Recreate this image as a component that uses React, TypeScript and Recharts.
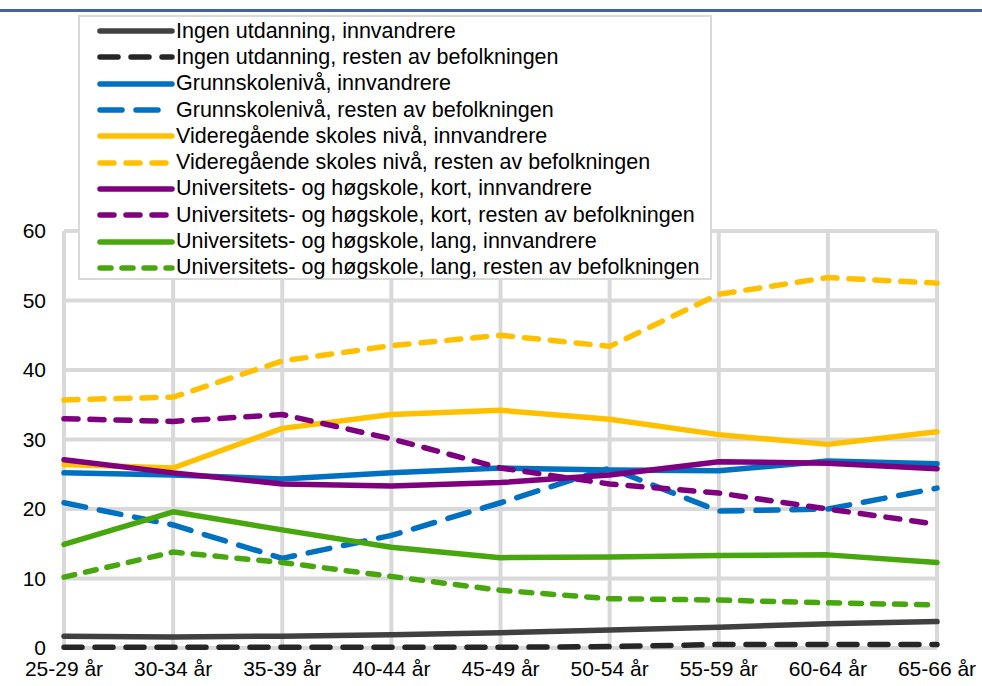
import React from 'react';
import { LineChart, Line, XAxis, YAxis, CartesianGrid } from 'recharts';

const categories = ['25-29 år', '30-34 år', '35-39 år', '40-44 år', '45-49 år', '50-54 år', '55-59 år', '60-64 år', '65-66 år'];

const ingenInnv = [1.7, 1.6, 1.7, 1.9, 2.2, 2.6, 3.0, 3.5, 3.8];
const ingenRest = [0.1, 0.1, 0.1, 0.1, 0.1, 0.2, 0.5, 0.5, 0.5];
const grunnInnv = [25.2, 24.9, 24.3, 25.2, 25.9, 25.6, 25.5, 26.9, 26.5];
const grunnRest = [20.9, 17.7, 12.9, 16.2, 20.9, 25.9, 19.7, 20.0, 23.0];
const vgsInnv = [26.4, 25.9, 31.6, 33.6, 34.2, 32.9, 30.7, 29.3, 31.1];
const vgsRest = [35.7, 36.1, 41.3, 43.5, 45.0, 43.4, 50.9, 53.3, 52.5];
const uhKortInnv = [27.1, 25.2, 23.6, 23.3, 23.8, 24.9, 26.8, 26.6, 25.8];
const uhKortRest = [33.0, 32.6, 33.6, 30.1, 25.9, 23.6, 22.3, 20.0, 17.8];
const uhLangInnv = [14.9, 19.6, 17.0, 14.5, 13.0, 13.1, 13.3, 13.4, 12.3];
const uhLangRest = [10.2, 13.8, 12.3, 10.3, 8.3, 7.1, 6.9, 6.5, 6.2];

const yTicks = [0, 10, 20, 30, 40, 50, 60];

const series = [
  { key: 'ingenInnv', name: 'Ingen utdanning, innvandrere', values: ingenInnv, color: '#404040', dash: undefined },
  { key: 'ingenRest', name: 'Ingen utdanning, resten av befolkningen', values: ingenRest, color: '#262626', dash: '18 13' },
  { key: 'grunnInnv', name: 'Grunnskolenivå, innvandrere', values: grunnInnv, color: '#0070c0', dash: undefined },
  { key: 'grunnRest', name: 'Grunnskolenivå, resten av befolkningen', values: grunnRest, color: '#0070c0', dash: '22 14' },
  { key: 'vgsInnv', name: 'Videregående skoles nivå, innvandrere', values: vgsInnv, color: '#ffc000', dash: undefined },
  { key: 'vgsRest', name: 'Videregående skoles nivå, resten av befolkningen', values: vgsRest, color: '#ffc000', dash: '14 12' },
  { key: 'uhKortInnv', name: 'Universitets- og høgskole, kort, innvandrere', values: uhKortInnv, color: '#7f007f', dash: undefined },
  { key: 'uhKortRest', name: 'Universitets- og høgskole, kort, resten av befolkningen', values: uhKortRest, color: '#7f007f', dash: '14 12' },
  { key: 'uhLangInnv', name: 'Universitets- og høgskole, lang, innvandrere', values: uhLangInnv, color: '#48a70e', dash: undefined },
  { key: 'uhLangRest', name: 'Universitets- og høgskole, lang, resten av befolkningen', values: uhLangRest, color: '#48a70e', dash: '11 11' },
];

const data = categories.map((c, i) => {
  const row: Record<string, string | number> = { cat: c };
  series.forEach((s) => { row[s.key] = s.values[i]; });
  return row;
});

const FONT = 'Arial, "Liberation Sans", sans-serif';

const LegendBox = () => (
  <div
    style={{
      position: 'absolute', left: 78, top: 15, width: 634, height: 265,
      border: '2px solid #d9d9d9', background: '#fff', fontFamily: FONT,
      fontSize: 21.5, color: '#000', paddingTop: 1, boxSizing: 'border-box',
    }}
  >
    {series.map((s) => (
      <div key={s.key} style={{ display: 'flex', alignItems: 'center', height: 26.3 }}>
        <svg width={96} height={12} style={{ flex: 'none' }}>
          <line x1={20} y1={6} x2={92} y2={6} stroke={s.color} strokeWidth={5.5}
            strokeDasharray={s.dash} strokeLinecap="round" />
        </svg>
        <span style={{ whiteSpace: 'nowrap' }}>{s.name}</span>
      </div>
    ))}
  </div>
);

export default function App() {
  return (
    <div style={{ position: 'fixed', left: 0, top: 0, width: 982, height: 686, background: '#fff' }}>
      <div style={{ position: 'absolute', left: 0, top: 9, width: 982, height: 3, background: '#44639a' }} />
      <LineChart width={982} height={686} data={data} margin={{ top: 231, right: 45, bottom: 0, left: 0 }}>
        <CartesianGrid stroke="#d9d9d9" strokeWidth={4} />
        <XAxis dataKey="cat" height={38} tickSize={0} tickMargin={13} axisLine={false}
          tick={{ fontSize: 21, fill: '#000', fontFamily: FONT }} interval={0} />
        <YAxis domain={[0, 60]} ticks={yTicks} width={64} tickSize={0} tickMargin={18} axisLine={false}
          tick={{ fontSize: 21, fill: '#000', fontFamily: FONT }} />
        {series.map((s) => (
          <Line key={s.key} type="linear" dataKey={s.key} name={s.name} stroke={s.color}
            strokeWidth={5.5} strokeDasharray={s.dash} strokeLinecap="round" strokeLinejoin="round"
            dot={false} isAnimationActive={false} />
        ))}
      </LineChart>
      <LegendBox />
    </div>
  );
}
